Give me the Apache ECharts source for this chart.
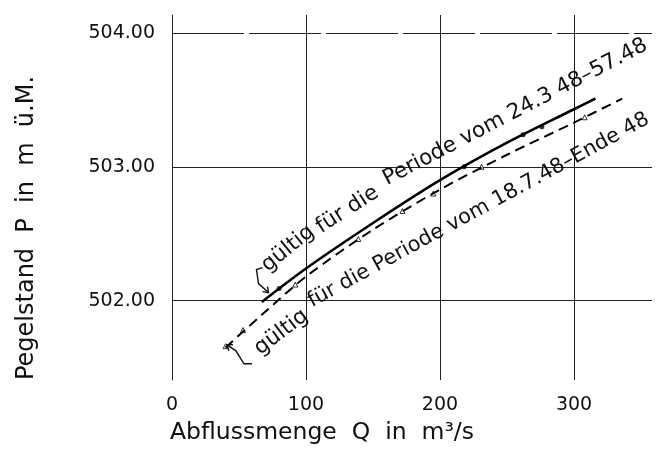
<!DOCTYPE html>
<html><head><meta charset="utf-8">
<script src="https://cdn.jsdelivr.net/npm/echarts@6/dist/echarts.min.js"></script>
<style>html,body{margin:0;padding:0;background:#fff}#c{width:664px;height:455px}</style>
</head><body><div id="c"></div>
<script>
const xTicks = [0, 100, 200, 300];
const yTicks = [502, 503, 504];
const yGridSolid = [502, 503];
const yGridDashed = 504;
const solidCurve = [[67,501.99],[100,502.24],[150,502.58],[200,502.90],[250,503.18],[300,503.43],[316,503.51]];
const dashedCurve = [[40,501.65],[70,501.92],[100,502.18],[150,502.53],[200,502.83],[250,503.09],[300,503.33],[336,503.51]];
const solidPoints = [[80,502.09],[218,503.00],[262,503.24],[276,503.30]];
const dashedPoints = [[40,501.66],[53,501.78],[92,502.12],[139,502.46],[172,502.67],[195,502.80],[231,503.00],[308,503.37]];
// annotation text pieces: [text, anchor x, anchor y (data, on baseline), angle in degrees, font size]
const label1Parts = [
  ['gültig', 71.5, 502.21, 39, 21.5],
  ['für die', 111.5, 502.50, 33, 21.5],
  ['Periode vom 24.3 48–57.48', 160.5, 502.86, 27.5, 21.5]
];
const label2Parts = [
  ['gültig', 66.0, 501.59, 37, 21.5],
  ['für die Periode vom 18.7.48–Ende 48', 104.5, 501.95, 28.6, 20.8]
];
const bracket1Anchor = [72, 502.06];
const bracket2Anchor = [41, 501.67];
const FONT = 'DejaVu Sans';

const chart = echarts.init(document.getElementById('c'));
chart.setOption({
  animation: false,
  backgroundColor: '#fff',
  grid: {left: 172, right: 12, top: 15, bottom: 75},
  xAxis: {
    type: 'value', min: 0, max: 358.2,
    axisLine: {show: false}, axisTick: {show: false, customValues: xTicks},
    axisLabel: {customValues: xTicks, margin: 16, color: '#111', fontSize: 19, fontFamily: FONT},
    splitLine: {show: true, lineStyle: {color: '#222', width: 1}}
  },
  yAxis: {
    type: 'value', min: 501.407, max: 504.134,
    axisLine: {show: true, lineStyle: {color: '#222', width: 1}},
    axisTick: {show: false, customValues: yGridSolid},
    axisLabel: {customValues: yTicks, margin: 17, color: '#111', fontSize: 19, fontFamily: FONT,
      formatter: v => v.toFixed(2)},
    splitLine: {show: true, lineStyle: {color: '#222', width: 1}}
  },
  series: [
    {type: 'line', data: solidCurve, smooth: 0.3, symbol: 'none',
     lineStyle: {color: '#000', width: 2.6},
     markLine: {silent: true, symbol: 'none', label: {show: false},
       lineStyle: {color: '#222', width: 1, type: [72, 5]},
       data: [{yAxis: yGridDashed}]}},
    {type: 'line', data: dashedCurve, smooth: 0.3, symbol: 'none',
     lineStyle: {color: '#000', width: 2, type: [10, 6]}},
    {type: 'scatter', data: solidPoints, symbol: 'circle', symbolSize: 5,
     itemStyle: {color: '#000'}},
    {type: 'scatter', data: dashedPoints, symbol: 'triangle', symbolSize: 5,
     itemStyle: {color: '#fff', borderColor: '#000', borderWidth: 1}}
  ]
});

const graphics = [];
function addParts(parts) {
  parts.forEach(([t, x, y, ang, fs]) => {
    const p = chart.convertToPixel({gridIndex: 0}, [x, y]);
    const a = ang * Math.PI / 180;
    const descent = fs * 0.24;
    graphics.push({type: 'text', x: p[0] + descent * Math.sin(a), y: p[1] + descent * Math.cos(a), rotation: a,
      style: {text: t, fill: '#111', font: fs + 'px "' + FONT + '"', textAlign: 'left', textVerticalAlign: 'bottom'}});
  });
}
addParts(label1Parts);
addParts(label2Parts);

// bracket 1: "[" with arrow down to the solid line
const b1 = chart.convertToPixel({gridIndex: 0}, bracket1Anchor);
graphics.push({type: 'polyline', shape: {points: [[b1[0]-6, b1[1]-25], [b1[0]-12, b1[1]-23], [b1[0]-10, b1[1]-9], [b1[0], b1[1]]]},
  style: {stroke: '#111', lineWidth: 1.4, fill: null}});
graphics.push({type: 'polyline', shape: {points: [[b1[0]-6, b1[1]-1], [b1[0], b1[1]], [b1[0]-1, b1[1]-6]]},
  style: {stroke: '#111', lineWidth: 1.4, fill: null}});
// bracket 2: "L" with arrow up to the dashed line start
const b2 = chart.convertToPixel({gridIndex: 0}, bracket2Anchor);
graphics.push({type: 'polyline', shape: {points: [[b2[0], b2[1]], [b2[0]+9, b2[1]+6], [b2[0]+17, b2[1]+19], [b2[0]+25, b2[1]+19]]},
  style: {stroke: '#111', lineWidth: 1.4, fill: null}});
graphics.push({type: 'polyline', shape: {points: [[b2[0]+2, b2[1]+6], [b2[0], b2[1]], [b2[0]+6, b2[1]]]},
  style: {stroke: '#111', lineWidth: 1.4, fill: null}});

graphics.push({type: 'text', left: 170, top: 421,
  style: {text: 'Abflussmenge  Q  in  m³/s', fill: '#111', font: '23.5px "' + FONT + '"'}});
graphics.push({type: 'text', x: 27, y: 228, rotation: Math.PI / 2,
  style: {text: 'Pegelstand  P  in  m  ü.M.', fill: '#111', font: '24px "' + FONT + '"', textAlign: 'center', textVerticalAlign: 'middle'}});

chart.setOption({graphic: graphics});
</script></body></html>
